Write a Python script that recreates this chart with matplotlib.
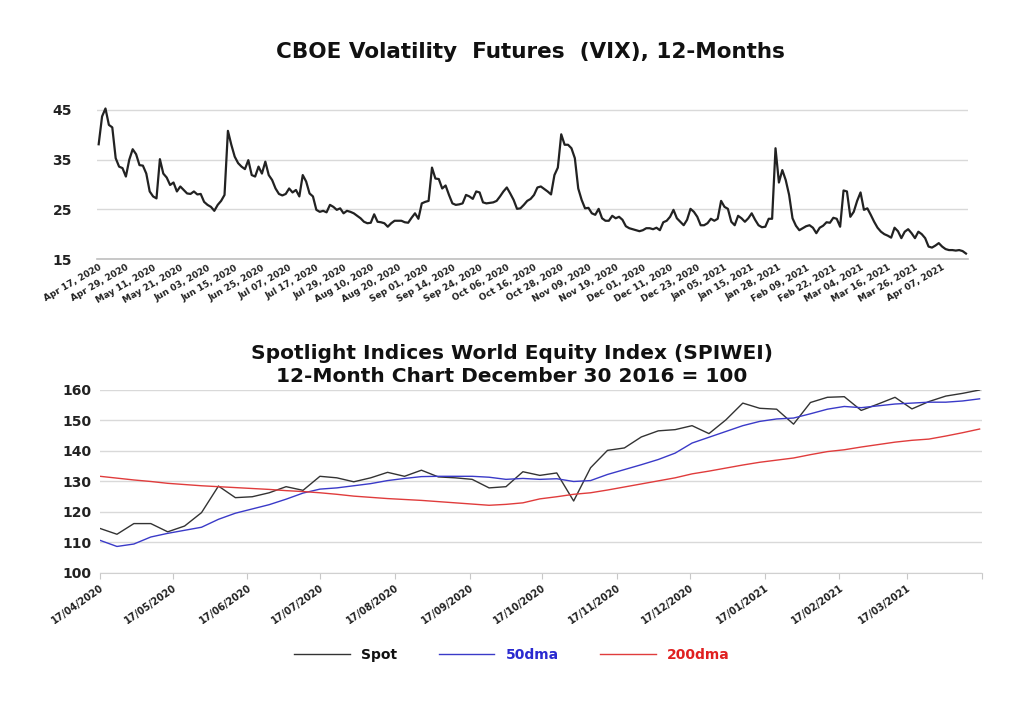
import numpy as np
import pandas as pd
import matplotlib
matplotlib.use('Agg')
import matplotlib.pyplot as plt

# --- VIX futures, daily (trading days Apr 17 2020 .. Apr 16 2021)
vix = [38.1, 43.7, 45.3, 42.0, 41.5, 35.3, 33.6, 33.3, 31.6, 35.0,
       37.1, 36.1, 33.9, 33.8, 32.2, 28.6, 27.6, 27.2, 35.1, 32.2,
       31.4, 29.9, 30.4, 28.6, 29.6, 28.9, 28.2, 28.1, 28.6, 28.0,
       28.1, 26.5, 25.9, 25.5, 24.7, 25.9, 26.7, 27.9, 40.8, 38.0,
       35.6, 34.3, 33.6, 33.1, 34.9, 31.9, 31.6, 33.6, 32.2, 34.6,
       31.9, 30.9, 29.2, 28.1, 27.8, 28.1, 29.2, 28.4, 28.9, 27.6,
       31.9, 30.6, 28.2, 27.6, 24.9, 24.5, 24.7, 24.4, 25.9, 25.5,
       24.9, 25.2, 24.2, 24.7, 24.5, 24.2, 23.7, 23.2, 22.5, 22.2,
       22.3, 24.0, 22.5, 22.4, 22.2, 21.5, 22.2, 22.7, 22.7, 22.7,
       22.4, 22.3, 23.3, 24.2, 23.1, 26.2, 26.5, 26.7, 33.4, 31.2,
       31.1, 29.2, 29.8, 27.9, 26.2, 25.9, 26.0, 26.2, 27.9, 27.6,
       27.1, 28.6, 28.4, 26.4, 26.2, 26.3, 26.4, 26.7, 27.6, 28.6,
       29.4, 28.2, 26.9, 25.1, 25.2, 25.9, 26.7, 27.1, 27.9, 29.4,
       29.6, 29.1, 28.6, 28.0, 31.9, 33.4, 40.1, 38.0, 38.0, 37.3,
       35.3, 29.2, 26.9, 25.2, 25.3, 24.2, 23.9, 25.1, 23.2, 22.7,
       22.7, 23.7, 23.2, 23.5, 22.9, 21.6, 21.2, 21.0, 20.8, 20.6,
       20.8, 21.2, 21.2, 21.0, 21.3, 20.8, 22.4, 22.7, 23.5, 24.9,
       23.2, 22.5, 21.8, 22.9, 25.1, 24.5, 23.5, 21.8, 21.8, 22.2,
       23.1, 22.7, 23.1, 26.7, 25.5, 25.1, 22.5, 21.8, 23.7, 23.2,
       22.5, 23.2, 24.2, 22.9, 21.8, 21.4, 21.5, 23.1, 23.1, 37.3,
       30.4, 32.9, 30.9, 27.9, 23.2, 21.7, 20.8, 21.2, 21.6, 21.8,
       21.3, 20.2, 21.3, 21.7, 22.4, 22.3, 23.3, 23.1, 21.5, 28.8,
       28.6, 23.5, 24.5, 26.7, 28.4, 24.9, 25.2, 23.9, 22.5, 21.3,
       20.5, 20.0, 19.7, 19.3, 21.3, 20.6, 19.2, 20.5, 21.0, 20.2,
       19.2, 20.5, 20.0, 19.2, 17.5, 17.3, 17.7, 18.2, 17.5, 17.0,
       16.8, 16.8, 16.7, 16.8, 16.6, 16.1]

vix_labels = ["Apr 17, 2020", "Apr 29, 2020", "May 11, 2020", "May 21, 2020",
              "Jun 03, 2020", "Jun 15, 2020", "Jun 25, 2020", "Jul 07, 2020",
              "Jul 17, 2020", "Jul 29, 2020", "Aug 10, 2020", "Aug 20, 2020",
              "Sep 01, 2020", "Sep 14, 2020", "Sep 24, 2020", "Oct 06, 2020",
              "Oct 16, 2020", "Oct 28, 2020", "Nov 09, 2020", "Nov 19, 2020",
              "Dec 01, 2020", "Dec 11, 2020", "Dec 23, 2020", "Jan 05, 2021",
              "Jan 15, 2021", "Jan 28, 2021", "Feb 09, 2021", "Feb 22, 2021",
              "Mar 04, 2021", "Mar 16, 2021", "Mar 26, 2021", "Apr 07, 2021"]
label_step = 8

# --- SPIWEI, weekly from 17/04/2020
spot = [114.6, 112.7, 116.2, 116.2, 113.5, 115.4, 119.8, 128.5, 124.7, 125.0,
        126.3, 128.3, 127.1, 131.7, 131.2, 129.9, 131.2, 133.0, 131.7, 133.7,
        131.5, 131.2, 130.7, 127.9, 128.3, 133.2, 132.0, 132.8, 123.6, 134.5,
        140.2, 141.0, 144.6, 146.6, 147.0, 148.3, 145.7, 150.2, 155.7, 154.0,
        153.7, 148.8, 155.9, 157.6, 157.8, 153.3, 155.4, 157.6, 153.8, 156.2,
        158.0, 158.9, 160.0]
ma50 = [110.7, 108.7, 109.5, 111.8, 113.0, 114.0, 115.0, 117.6, 119.6, 121.0,
        122.4, 124.2, 126.2, 127.5, 127.9, 128.6, 129.3, 130.3, 131.0, 131.6,
        131.7, 131.7, 131.7, 131.4, 130.7, 131.0, 130.7, 130.9, 130.0, 130.3,
        132.3, 133.9, 135.5, 137.2, 139.3, 142.6, 144.5, 146.4, 148.3, 149.7,
        150.5, 150.8, 152.2, 153.7, 154.6, 154.2, 154.8, 155.4, 155.7, 156.0,
        156.0, 156.4, 157.1]
ma200 = [131.7, 131.1, 130.5, 130.0, 129.4, 129.0, 128.6, 128.3, 128.0, 127.7,
         127.4, 127.0, 126.7, 126.3, 125.8, 125.2, 124.8, 124.4, 124.1, 123.8,
         123.4, 123.0, 122.6, 122.2, 122.5, 123.0, 124.3, 125.0, 125.8, 126.3,
         127.2, 128.2, 129.2, 130.2, 131.2, 132.5, 133.4, 134.4, 135.4, 136.3,
         137.0, 137.7, 138.8, 139.8, 140.4, 141.3, 142.1, 142.9, 143.5, 143.9,
         144.9, 146.0, 147.2]

weeks = pd.date_range('2020-04-17', periods=len(spot), freq='7D')
month_ticks = pd.date_range('2020-04-17', '2021-04-17', freq=pd.DateOffset(months=1))

fig = plt.figure(figsize=(10.24, 7.11), dpi=100)
fig.patch.set_facecolor('white')
grid_c = '#d9d9d9'
txt_c = '#222222'

# ---------- top chart
ax1 = fig.add_axes([0.0947, 0.6357, 0.8503, 0.2166])
x = np.arange(len(vix))
ax1.plot(x, vix, color='#222222', lw=1.6)
ax1.set_xlim(-0.5, len(vix) - 0.5)
ax1.set_ylim(15, 46)
ax1.set_yticks([15, 25, 35, 45])
ax1.yaxis.grid(True, color=grid_c, lw=1)
ax1.set_axisbelow(True)
for s in ['top', 'right', 'left']:
    ax1.spines[s].set_visible(False)
ax1.spines['bottom'].set_color('#bfbfbf')
ax1.spines['bottom'].set_linewidth(1.2)
ax1.tick_params(axis='y', length=0, pad=18, labelsize=10, labelcolor=txt_c)
ax1.tick_params(axis='x', length=0, pad=3)
ax1.set_xticks(np.arange(0, len(vix), label_step)[:len(vix_labels)])
ax1.set_xticklabels(vix_labels, rotation=30, ha='right', rotation_mode='anchor',
                    fontsize=6.5, fontweight='bold', color=txt_c)
for lab in ax1.get_yticklabels():
    lab.set_fontweight('bold')
fig.text(0.518, 0.927, 'CBOE Volatility  Futures  (VIX), 12-Months',
         ha='center', va='center', fontsize=15.5, fontweight='bold', color='#111111')

# ---------- bottom chart
ax2 = fig.add_axes([0.0977, 0.1941, 0.8613, 0.2574])
l1, = ax2.plot(weeks, spot, color='#333333', lw=1.0)
l2, = ax2.plot(weeks, ma50, color='#3a3ac8', lw=1.0)
l3, = ax2.plot(weeks, ma200, color='#e03c3c', lw=1.0)
ax2.set_xlim(month_ticks[0], month_ticks[-1])
ax2.set_ylim(100, 160)
ax2.set_yticks(range(100, 161, 10))
ax2.yaxis.grid(True, color=grid_c, lw=1)
ax2.set_axisbelow(True)
for s in ['top', 'right', 'left']:
    ax2.spines[s].set_visible(False)
ax2.spines['bottom'].set_color('#d0d0d0')
ax2.set_xticks(month_ticks)
ax2.set_xticklabels([d.strftime('%d/%m/%Y') for d in month_ticks[:-1]] + [''],
                    rotation=35, ha='right', rotation_mode='anchor',
                    fontsize=7, fontweight='bold', color=txt_c)
ax2.tick_params(axis='x', direction='out', length=4, color='#c8c8c8', pad=3)
ax2.tick_params(axis='y', length=0, pad=6, labelsize=10, labelcolor=txt_c)
for lab in ax2.get_yticklabels():
    lab.set_fontweight('bold')
fig.text(0.5, 0.503, 'Spotlight Indices World Equity Index (SPIWEI)',
         ha='center', va='center', fontsize=14.5, fontweight='bold', color='#111111')
fig.text(0.5, 0.471, '12-Month Chart December 30 2016 = 100',
         ha='center', va='center', fontsize=14.5, fontweight='bold', color='#111111')

leg = fig.legend([l1, l2, l3], ['Spot', '50dma', '200dma'], loc='center',
                 bbox_to_anchor=(0.5, 0.079), ncol=3, frameon=False,
                 handlelength=4, columnspacing=3, labelcolor=['#111111', '#2a2ad0', '#e02020'],
                 prop={'weight': 'bold', 'size': 10})

fig.savefig('out.png', dpi=100, facecolor='white')
plt.close(fig)
